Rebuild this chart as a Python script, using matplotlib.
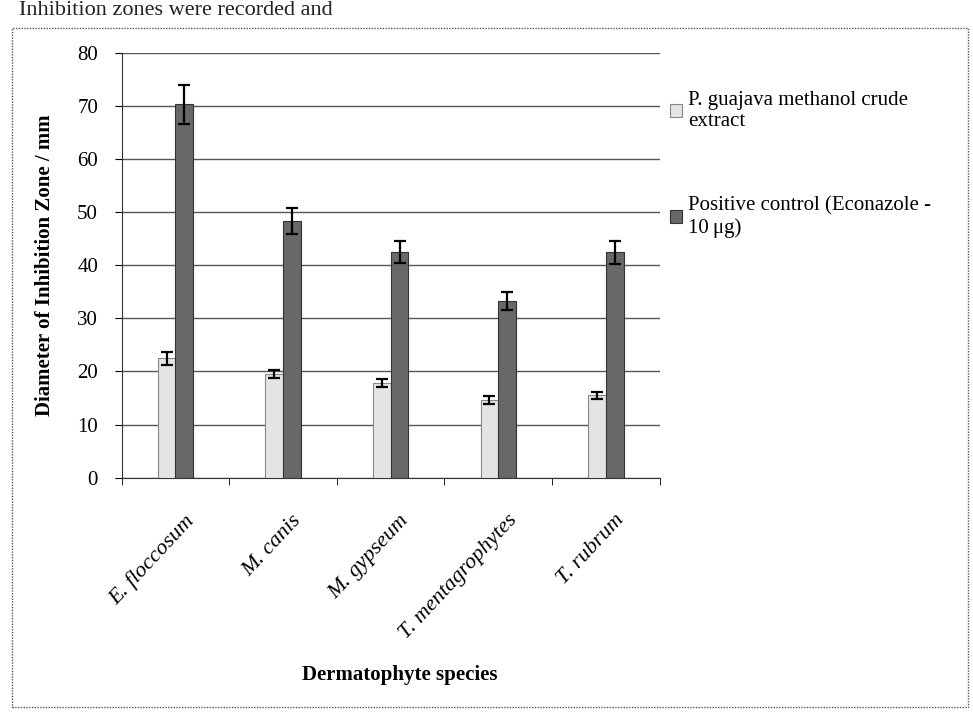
import numpy as np
import matplotlib.pyplot as plt
from matplotlib.patches import Rectangle

species = ["E. floccosum", "M. canis", "M. gypseum", "T. mentagrophytes", "T. rubrum"]
extract_mean = [22.5, 19.5, 17.8, 14.6, 15.5]
extract_err = [1.2, 0.8, 0.8, 0.7, 0.7]
control_mean = [70.3, 48.3, 42.5, 33.3, 42.4]
control_err = [3.7, 2.5, 2.1, 1.7, 2.2]

extract_label = "P. guajava methanol crude\nextract"
control_label = "Positive control (Econazole -\n10\u2009\u03bcg)"

plt.rcParams["font.family"] = ["Liberation Serif", "DejaVu Serif"]

fig = plt.figure(figsize=(9.73, 7.13), dpi=100)
ax = fig.add_axes([0.125, 0.330, 0.553, 0.596])

# dotted chart-area frame, as in the scanned figure
fig.patches.append(Rectangle((0.012, 0.008), 0.983, 0.953, transform=fig.transFigure,
                             fill=False, edgecolor="#555555", linestyle=(0, (1, 1)), linewidth=1.0))
fig.text(0.02, 0.999, "Inhibition zones were recorded and", fontsize=16, va="top",
         ha="left", color="#222222")

x = np.arange(len(species))
w = 0.165
err_kw = dict(ecolor="black", elinewidth=1.6, capsize=4, capthick=1.6)

ax.bar(x - w / 2, extract_mean, w, yerr=extract_err, color="#e4e4e4", edgecolor="#888888",
       linewidth=0.8, label=extract_label, error_kw=err_kw, zorder=3)
ax.bar(x + w / 2, control_mean, w, yerr=control_err, color="#686868", edgecolor="#333333",
       linewidth=0.8, label=control_label, error_kw=err_kw, zorder=3)

ax.set_xlim(-0.5, len(species) - 0.5)
ax.set_ylim(0, 80)
ax.set_yticks(range(0, 81, 10))
ax.yaxis.grid(True, color="#555555", linewidth=1.0, zorder=0)

ax.set_xticks(x + 0.08)
ax.set_xticklabels(species, rotation=47, ha="right", rotation_mode="anchor",
                   fontsize=16, style="italic")
ax.tick_params(axis="x", length=0, pad=24)
ax.set_xticks(np.arange(-0.5, len(species), 1), minor=True)
ax.tick_params(axis="x", which="minor", length=5, direction="out")
ax.tick_params(axis="y", labelsize=15, length=5, direction="out", pad=12)

for s in ["top", "right"]:
    ax.spines[s].set_visible(False)
ax.spines["left"].set_color("#333333")
ax.spines["bottom"].set_color("#333333")

ax.set_ylabel("Diameter of Inhibition Zone / mm", fontsize=15, fontweight="bold", labelpad=16)
fig.text(0.411, 0.053, "Dermatophyte species", fontsize=15, fontweight="bold",
         ha="center", va="center")

ax.legend(loc="upper left", bbox_to_anchor=(0.985, 0.955), frameon=False, fontsize=15,
          handlelength=0.55, handleheight=0.55, handletextpad=0.3, labelspacing=3.1)

fig.savefig("out.png", dpi=100)
